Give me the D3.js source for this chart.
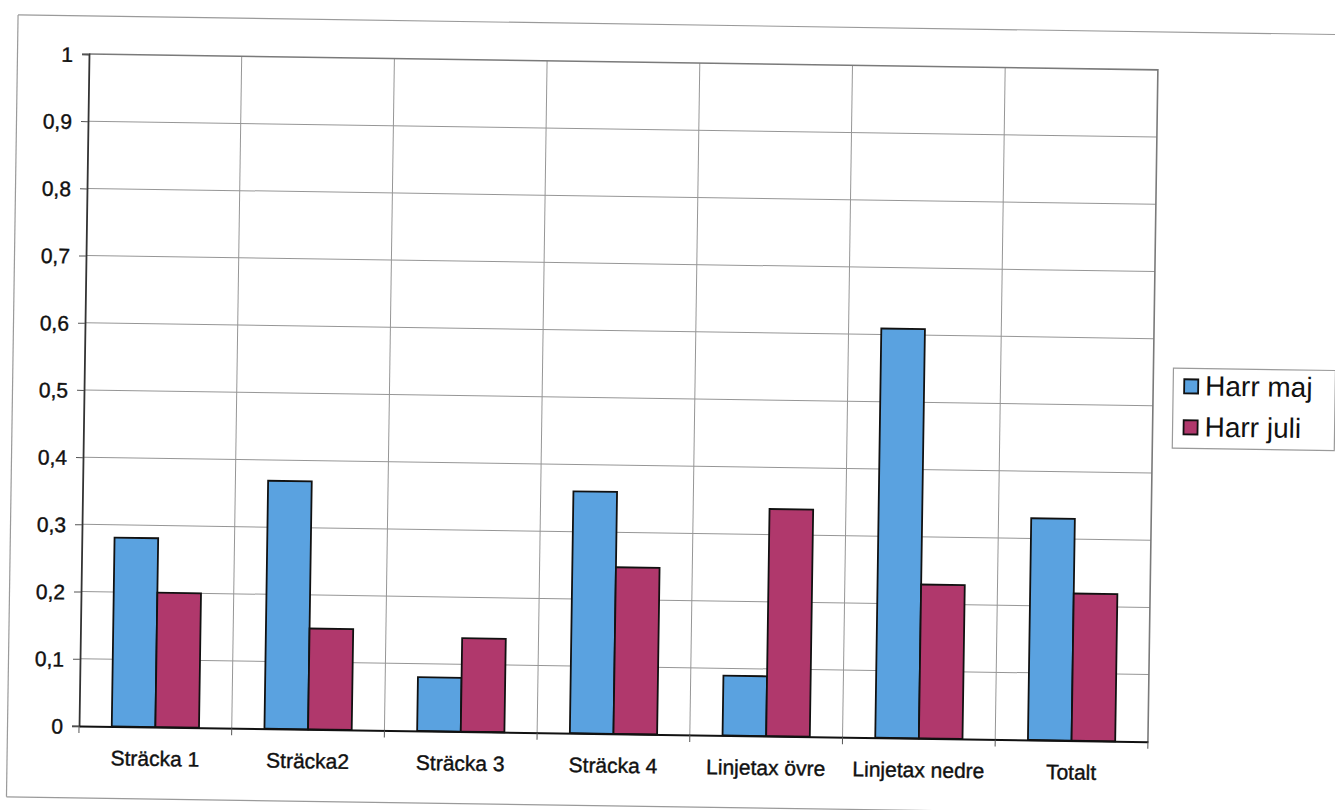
<!DOCTYPE html>
<html>
<head>
<meta charset="utf-8">
<script src="https://cdn.jsdelivr.net/npm/d3@7"></script>
<style>
  html, body { margin: 0; padding: 0; background: #fff; }
  svg { display: block; }
  text { font-family: "Liberation Sans", Arial, sans-serif; fill: #111; }
</style>
</head>
<body>
<svg id="chart" width="1335" height="810"></svg>
<script>
// Categories and series
const categories = ["Sträcka 1", "Sträcka2", "Sträcka 3", "Sträcka 4", "Linjetax övre", "Linjetax nedre", "Totalt"];
const seriesNames = ["Harr maj", "Harr juli"];
const harrMaj  = [0.281, 0.369, 0.080, 0.360, 0.089, 0.609, 0.330];
const harrJuli = [0.200, 0.150, 0.139, 0.248, 0.338, 0.229, 0.219];
const yTickValues = [0, 0.1, 0.2, 0.3, 0.4, 0.5, 0.6, 0.7, 0.8, 0.9, 1];
const yTickLabels = ["0", "0,1", "0,2", "0,3", "0,4", "0,5", "0,6", "0,7", "0,8", "0,9", "1"];

const seriesValues = [harrMaj, harrJuli];
const colors = ["#5aa2e0", "#b0386c"];

// Layout
const W = 1069, H = 672;
const svg = d3.select("#chart");
// the printed sheet sits slightly askew
const root = svg.append("g").attr("transform", "translate(89,54) rotate(0.85)");

// outer chart-area frame
const frame = root.append("g").attr("stroke", "#9a9a9a").attr("stroke-width", 1.2).attr("fill", "none");
frame.append("line").attr("x1", -71.5).attr("y1", -38).attr("x2", 1300).attr("y2", -38);
frame.append("line").attr("x1", -71.5).attr("y1", -38).attr("x2", -71.5).attr("y2", 744);
frame.append("line").attr("x1", -71.5).attr("y1", 744).attr("x2", 880).attr("y2", 744);

const x0 = d3.scaleBand().domain(categories).range([0, W]).paddingInner(0).paddingOuter(0);
const x1 = d3.scaleBand().domain(seriesNames).range([0, x0.bandwidth()]).paddingInner(0).paddingOuter(0.75);
const y = d3.scaleLinear().domain([0, 1]).range([H, 0]);

// horizontal gridlines
root.append("g")
  .selectAll("line").data(yTickValues.slice(1, -1)).join("line")
  .attr("x1", 0).attr("x2", W)
  .attr("y1", d => y(d)).attr("y2", d => y(d))
  .attr("stroke", "#969696").attr("stroke-width", 1);

// vertical gridlines at category boundaries
root.append("g")
  .selectAll("line").data(categories.slice(1)).join("line")
  .attr("x1", d => x0(d)).attr("x2", d => x0(d))
  .attr("y1", 0).attr("y2", H)
  .attr("stroke", "#969696").attr("stroke-width", 1);

// plot border: top and right
root.append("path")
  .attr("d", `M0,0H${W}V${H}`)
  .attr("fill", "none").attr("stroke", "#7a7a7a").attr("stroke-width", 1.6);

// bars
const barData = [];
categories.forEach((c, i) => {
  seriesNames.forEach((s, j) => barData.push({ c, s, v: seriesValues[j][i], j }));
});
root.append("g")
  .selectAll("rect").data(barData).join("rect")
  .attr("x", d => x0(d.c) + x1(d.s))
  .attr("width", x1.bandwidth())
  .attr("y", d => y(d.v))
  .attr("height", d => y(0) - y(d.v))
  .attr("fill", d => colors[d.j])
  .attr("stroke", "#111").attr("stroke-width", 1.8);

// y axis
const yAxis = root.append("g")
  .call(d3.axisLeft(y).tickValues(yTickValues).tickFormat((d, i) => yTickLabels[i]).tickSize(7).tickPadding(9));
yAxis.select(".domain").attr("stroke", "#333").attr("stroke-width", 1.8);
yAxis.selectAll(".tick line").attr("stroke", "#555");
yAxis.selectAll(".tick text").style("font-size", "21px").attr("fill", "#111").attr("dy", "0.36em")
  .style("stroke", "#111").style("stroke-width", 0.4);

// x axis line with boundary ticks
const xAxis = root.append("g").attr("transform", `translate(0,${H})`)
  .call(d3.axisBottom(x0).tickSize(0).tickPadding(24));
xAxis.select(".domain").attr("stroke", "#111").attr("stroke-width", 2);
xAxis.selectAll(".tick text").style("font-size", "21px").attr("fill", "#111")
  .style("stroke", "#111").style("stroke-width", 0.4);
root.append("g").attr("transform", `translate(0,${H})`)
  .selectAll("line").data(categories.concat(["end"])).join("line")
  .attr("x1", (d, i) => i < categories.length ? x0(d) : W)
  .attr("x2", (d, i) => i < categories.length ? x0(d) : W)
  .attr("y1", 0).attr("y2", 7)
  .attr("stroke", "#555").attr("stroke-width", 1);

// legend
const legend = root.append("g").attr("transform", "translate(1089,298)");
legend.append("rect")
  .attr("width", 162).attr("height", 80)
  .attr("fill", "#fff").attr("stroke", "#9a9a9a").attr("stroke-width", 1.2);
seriesNames.forEach((s, j) => {
  const row = legend.append("g").attr("transform", `translate(11,${11 + j * 41})`);
  row.append("rect").attr("width", 14).attr("height", 14)
    .attr("fill", colors[j]).attr("stroke", "#111").attr("stroke-width", 1.8);
  row.append("text").attr("x", 21).attr("y", 16)
    .style("font-size", "28px").text(s);
});
</script>
</body>
</html>
